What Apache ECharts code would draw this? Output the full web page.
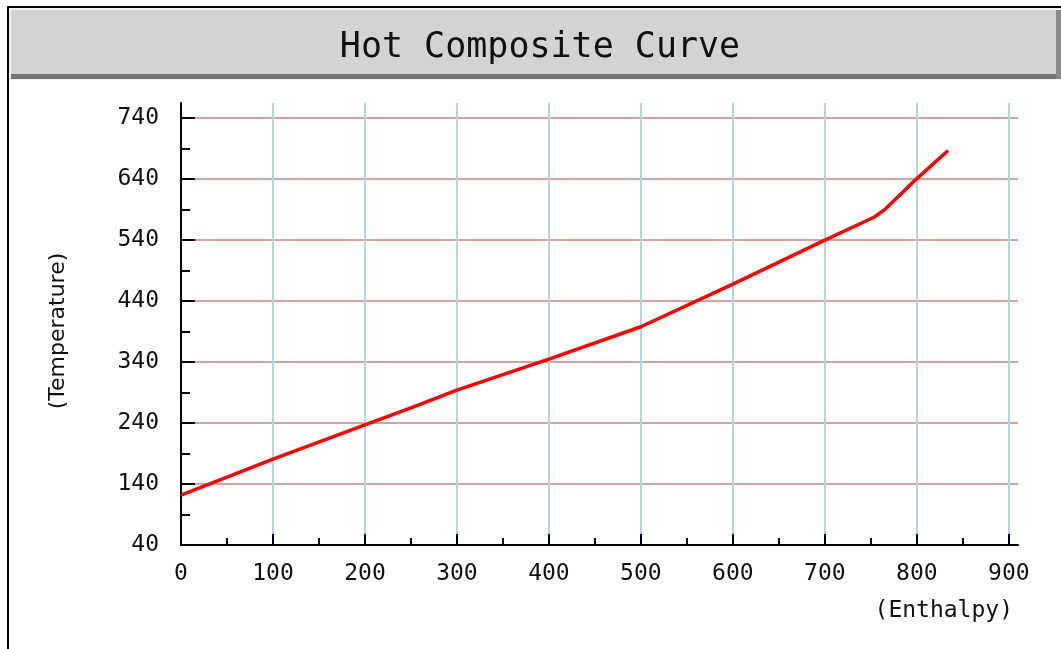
<!DOCTYPE html>
<html>
<head>
<meta charset="utf-8">
<script src="https://cdn.jsdelivr.net/npm/echarts@6/dist/echarts.min.js"></script>
<style>
html,body{margin:0;padding:0;background:#fff;}
#chart{width:1061px;height:649px;}
</style>
</head>
<body>
<div id="chart"></div>
<script>
// Data
const enthalpy    = [0, 100, 200, 250, 300, 400, 500, 600, 700, 754, 765, 800, 834];
const temperature = [122, 181, 237, 265, 294, 345, 398, 468, 540, 578, 590, 641, 687];

// Tick values
const xMajorTicks = [0, 100, 200, 300, 400, 500, 600, 700, 800, 900];
const xMinorTicks = [50, 150, 250, 350, 450, 550, 650, 750, 850];
const yMajorTicks = [40, 140, 240, 340, 440, 540, 640, 740];
const yMinorTicks = [90, 190, 290, 390, 490, 590, 690];

const titleText = 'Hot Composite Curve';
const xName = '(Enthalpy)';
const yName = '(Temperature)';

const seriesData = enthalpy.map((x, i) => [x, temperature[i]]);

const mono = 'DejaVu Sans Mono';
const chart = echarts.init(document.getElementById('chart'), null, {renderer: 'canvas'});

const xRange = {min: 0, max: 910};
const yRange = {min: 40, max: 765};

chart.setOption({
  animation: false,
  backgroundColor: '#ffffff',
  grid: {left: 181, right: 43, top: 103, bottom: 104, containLabel: false},
  graphic: [
    // frame
    {type: 'rect', shape: {x: 7, y: 6, width: 1060, height: 2}, style: {fill: '#000'}, z: 0},
    {type: 'rect', shape: {x: 7, y: 6, width: 2, height: 650}, style: {fill: '#000'}, z: 0},
    // title bar
    {type: 'rect', shape: {x: 9, y: 8, width: 1052, height: 72}, style: {fill: '#f2f2f2'}, z: 0},
    {type: 'rect', shape: {x: 11, y: 10, width: 1050, height: 64}, style: {fill: '#d3d3d3'}, z: 0},
    {type: 'rect', shape: {x: 11, y: 74, width: 1050, height: 5}, style: {fill: '#757575'}, z: 0},
    {type: 'rect', shape: {x: 1056, y: 10, width: 5, height: 69}, style: {fill: '#8a8a8a'}, z: 0},
    {type: 'text', x: 540, y: 48, style: {text: titleText, fill: '#111', font: '35px "DejaVu Sans Mono"', textAlign: 'center', textVerticalAlign: 'middle'}, z: 1},
    // axis names
    {type: 'text', x: 1013, y: 611, style: {text: xName, fill: '#111', font: '23px "DejaVu Sans Mono"', textAlign: 'right', textVerticalAlign: 'middle'}, z: 1},
    {type: 'text', x: 58, y: 331, rotation: Math.PI / 2, style: {text: yName, fill: '#111', font: '22px "DejaVu Sans"', textAlign: 'center', textVerticalAlign: 'middle'}, z: 1}
  ],
  xAxis: [
    {
      type: 'value', min: xRange.min, max: xRange.max,
      axisLine: {show: true, onZero: false, lineStyle: {color: '#000', width: 2}},
      axisTick: {show: true, inside: true, length: 11, customValues: xMajorTicks, lineStyle: {color: '#000', width: 2}},
      axisLabel: {show: true, customValues: xMajorTicks, margin: 18, color: '#111', fontFamily: mono, fontSize: 23},
      splitLine: {show: true, lineStyle: {color: '#add8e6', width: 2}}
    },
    {
      type: 'value', min: xRange.min, max: xRange.max, position: 'bottom',
      axisLine: {show: false, onZero: false},
      axisTick: {show: true, inside: true, length: 7, customValues: xMinorTicks, lineStyle: {color: '#000', width: 2}},
      axisLabel: {show: false},
      splitLine: {show: false}
    }
  ],
  yAxis: [
    {
      type: 'value', min: yRange.min, max: yRange.max,
      axisLine: {show: true, onZero: false, lineStyle: {color: '#000', width: 2}},
      axisTick: {show: true, inside: true, length: 14, customValues: yMajorTicks, lineStyle: {color: '#000', width: 2}},
      axisLabel: {show: true, customValues: yMajorTicks, margin: 22, color: '#111', fontFamily: mono, fontSize: 23},
      splitLine: {show: true, lineStyle: {color: '#d6a3a3', width: 2}}
    },
    {
      type: 'value', min: yRange.min, max: yRange.max, position: 'left',
      axisLine: {show: false, onZero: false},
      axisTick: {show: true, inside: true, length: 9, customValues: yMinorTicks, lineStyle: {color: '#000', width: 2}},
      axisLabel: {show: false},
      splitLine: {show: false}
    }
  ],
  series: [{
    type: 'line',
    data: seriesData,
    showSymbol: false,
    symbol: 'none',
    lineStyle: {color: '#ff0000', width: 3.5},
    z: 5
  }]
});
</script>
</body>
</html>
